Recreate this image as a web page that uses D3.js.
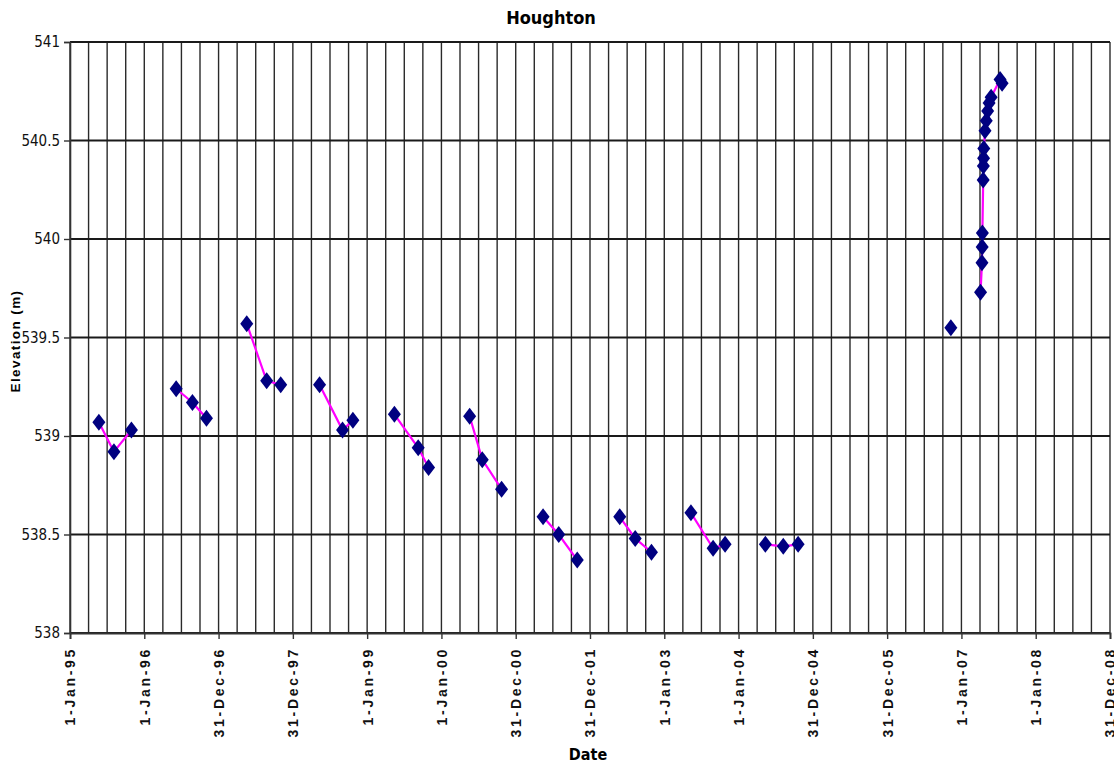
<!DOCTYPE html>
<html>
<head>
<meta charset="utf-8">
<script src="https://d3js.org/d3.v7.min.js"></script>
<style>
  body { margin: 0; background: #fff; }
</style>
</head>
<body>
<svg id="chart" width="1114" height="764"></svg>
<script>
// survey data - Houghton water elevations
var dates = [
  "1995-05-23", "1995-08-05", "1995-10-30",
  "1996-06-06", "1996-08-25", "1996-11-02",
  "1997-05-19", "1997-08-25", "1997-11-02",
  "1998-05-12", "1998-09-02", "1998-10-23",
  "1999-05-15", "1999-09-09", "1999-10-30",
  "2000-05-19", "2000-07-20", "2000-10-23",
  "2001-05-15", "2001-07-31", "2001-10-30",
  "2002-05-27", "2002-08-11", "2002-10-30",
  "2003-05-12", "2003-08-29", "2003-10-27",
  "2004-05-12", "2004-08-08", "2004-10-20",
  "2006-11-10",
  "2007-04-05", "2007-04-12", "2007-04-13", "2007-04-14",
  "2007-04-18", "2007-04-19", "2007-04-20", "2007-04-21",
  "2007-04-27", "2007-05-03", "2007-05-10", "2007-05-17",
  "2007-05-27", "2007-07-10", "2007-07-20"
];
var elevations = [
  539.07, 538.92, 539.03,
  539.24, 539.17, 539.09,
  539.57, 539.28, 539.26,
  539.26, 539.03, 539.08,
  539.11, 538.94, 538.84,
  539.10, 538.88, 538.73,
  538.59, 538.50, 538.37,
  538.59, 538.48, 538.41,
  538.61, 538.43, 538.45,
  538.45, 538.44, 538.45,
  539.55,
  539.73, 539.88, 539.96, 540.03,
  540.30, 540.37, 540.41, 540.46,
  540.55, 540.60, 540.65, 540.69,
  540.72, 540.81, 540.79
];
// which survey season each point belongs to (lines only join within a season)
var seasons = [
  95, 95, 95, 96, 96, 96, 97, 97, 97, 98, 98, 98, 99, 99, 99,
  100, 100, 100, 101, 101, 101, 102, 102, 102, 103, 103, 103, 104, 104, 104,
  106,
  107, 107, 107, 107, 107, 107, 107, 107, 107, 107, 107, 107, 107, 107, 107
];

var xTickLabels = ["1-Jan-95", "1-Jan-96", "31-Dec-96", "31-Dec-97", "1-Jan-99", "1-Jan-00",
  "31-Dec-00", "31-Dec-01", "1-Jan-03", "1-Jan-04", "31-Dec-04", "31-Dec-05",
  "1-Jan-07", "1-Jan-08", "31-Dec-08"];
var yTicks = [538, 538.5, 539, 539.5, 540, 540.5, 541];

var plotLeft = 70, plotRight = 1110, plotTop = 42, plotBottom = 633;
var DAY = 86400000;
var start = Date.UTC(1995, 0, 1);
var narrow = '"Liberation Sans Narrow", "Arial Narrow", "DejaVu Sans Condensed", sans-serif';
var wide = '"Liberation Sans", Arial, sans-serif';

var svg = d3.select('#chart');

var x = d3.scaleUtc()
    .domain([new Date(start), new Date(start + 14 * 365.25 * DAY)])
    .range([plotLeft, plotRight]);

var y = d3.scaleLinear()
    .domain([538, 541])
    .range([plotBottom, plotTop]);

var majorTicks = xTickLabels.map(function (d, i) { return new Date(start + i * 365.25 * DAY); });
var minorTicks = d3.range(0, 57).map(function (i) { return new Date(start + i * 91.3125 * DAY); });

// vertical grid
svg.append('g').selectAll('line')
    .data(minorTicks)
    .enter().append('line')
    .attr('x1', function (d) { return x(d); })
    .attr('x2', function (d) { return x(d); })
    .attr('y1', plotTop).attr('y2', plotBottom)
    .attr('stroke', '#2a2a2a').attr('stroke-width', 1.4);

// horizontal grid
svg.append('g').selectAll('line')
    .data(yTicks)
    .enter().append('line')
    .attr('x1', plotLeft).attr('x2', plotRight)
    .attr('y1', function (d) { return y(d); })
    .attr('y2', function (d) { return y(d); })
    .attr('stroke', '#1a1a1a').attr('stroke-width', 1.8);

// y axis
var yAxis = svg.append('g')
    .attr('transform', 'translate(' + plotLeft + ',0)')
    .call(d3.axisLeft(y).tickValues(yTicks).tickSize(6).tickPadding(4)
        .tickFormat(function (d) { return String(d); }));
yAxis.select('.domain').attr('stroke', '#333').attr('stroke-width', 1.6);
yAxis.selectAll('.tick line').attr('stroke', '#333').attr('stroke-width', 1.4);
yAxis.selectAll('.tick text')
    .style('font-family', narrow)
    .style('font-size', '15px').attr('fill', '#111');

// x axis
var xAxis = svg.append('g')
    .attr('transform', 'translate(0,' + plotBottom + ')')
    .call(d3.axisBottom(x).tickValues(majorTicks).tickSize(6).tickPadding(8)
        .tickFormat(function (d, i) { return xTickLabels[i]; }));
xAxis.select('.domain').attr('stroke', '#333').attr('stroke-width', 1.8);
xAxis.selectAll('.tick line').attr('stroke', '#333').attr('stroke-width', 1.4);
xAxis.selectAll('.tick text')
    .style('font-family', wide)
    .style('font-weight', 'bold')
    .style('font-size', '14px')
    .style('letter-spacing', '2.7px')
    .attr('fill', '#111')
    .attr('text-anchor', 'end')
    .attr('dy', '0.35em')
    .attr('transform', 'translate(0,6) rotate(-90)')
    .attr('x', -8).attr('y', 0);

// data
var points = dates.map(function (d, i) {
  return { date: new Date(d + 'T00:00:00Z'), elev: elevations[i], season: seasons[i] };
});

var line = d3.line()
    .x(function (d) { return x(d.date); })
    .y(function (d) { return y(d.elev); });

svg.append('g').selectAll('path')
    .data(Array.from(d3.group(points, function (d) { return d.season; }).values()))
    .enter().append('path')
    .attr('d', line)
    .attr('fill', 'none')
    .attr('stroke', '#ff00ff')
    .attr('stroke-width', 2.2);

svg.append('g').selectAll('path')
    .data(points)
    .enter().append('path')
    .attr('d', 'M0,-8.5L6.5,0L0,8.5L-6.5,0Z')
    .attr('transform', function (d) { return 'translate(' + x(d.date) + ',' + y(d.elev) + ')'; })
    .attr('fill', '#000080');

// titles
svg.append('text')
    .attr('x', 551).attr('y', 24)
    .attr('text-anchor', 'middle')
    .style('font-family', narrow)
    .style('font-weight', 'bold').style('font-size', '18px')
    .text('Houghton');

svg.append('text')
    .attr('x', 588).attr('y', 760)
    .attr('text-anchor', 'middle')
    .style('font-family', narrow)
    .style('font-weight', 'bold').style('font-size', '16px')
    .text('Date');

svg.append('text')
    .attr('transform', 'translate(20,341) rotate(-90)')
    .attr('text-anchor', 'middle')
    .style('font-family', wide)
    .style('font-weight', 'bold').style('font-size', '13.5px')
    .style('letter-spacing', '1.4px')
    .text('Elevation (m)');
</script>
</body>
</html>
